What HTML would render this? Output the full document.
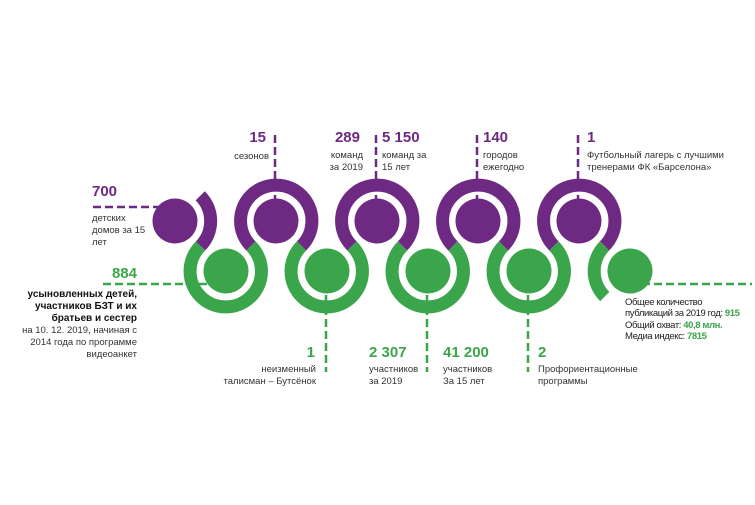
<!DOCTYPE html>
<html><head><meta charset="utf-8"><style>
html,body{margin:0;padding:0;background:#fff;}
svg{display:block;}
text{font-family:"Liberation Sans",sans-serif;}
.n{font-size:15px;font-weight:bold;}
.p{fill:#6e2a83;}
.g{fill:#3aa54b;}
.t{font-size:9.5px;fill:#333;}
.b{font-size:10px;font-weight:bold;fill:#111;}
.r{font-size:9.5px;fill:#222;letter-spacing:-0.4px;}
</style></head><body>
<svg width="755" height="505" viewBox="0 0 755 505" xmlns="http://www.w3.org/2000/svg">
<g fill="none" stroke-width="2.5" stroke-dasharray="8 4">
 <g stroke="#6e2a83">
  <line x1="93" y1="207" x2="172" y2="207"/>
  <line x1="275" y1="135" x2="275" y2="221"/>
  <line x1="376" y1="135" x2="376" y2="221"/>
  <line x1="477" y1="135" x2="477" y2="221"/>
  <line x1="578" y1="135" x2="578" y2="221"/>
 </g>
 <g stroke="#3aa54b">
  <line x1="103" y1="284" x2="226" y2="284"/>
  <line x1="630" y1="284" x2="752" y2="284"/>
  <line x1="326" y1="271" x2="326" y2="372"/>
  <line x1="427" y1="271" x2="427" y2="372"/>
  <line x1="528" y1="271" x2="528" y2="372"/>
 </g>
</g>
<g fill="none" stroke-width="13">
 <g stroke="#6e2a83">
  <path d="M200.2 195.8 A35.7 35.7 0 0 1 200.5 246"/>
  <path d="M251 246 A35.7 35.7 0 1 1 301.5 246"/>
  <path d="M352 246 A35.7 35.7 0 1 1 402.5 246"/>
  <path d="M453 246 A35.7 35.7 0 1 1 503.5 246"/>
  <path d="M554 246 A35.7 35.7 0 1 1 604.5 246"/>
 </g>
 <g stroke="#3aa54b">
  <path d="M200.5 246 A35.7 35.7 0 1 0 251 246"/>
  <path d="M301.5 246 A35.7 35.7 0 1 0 352 246"/>
  <path d="M402.5 246 A35.7 35.7 0 1 0 453 246"/>
  <path d="M503.5 246 A35.7 35.7 0 1 0 554 246"/>
  <path d="M604.5 246 A35.7 35.7 0 0 0 604.8 296.5"/>
 </g>
</g>
<g fill="#6e2a83">
 <circle cx="175" cy="221" r="22.5"/>
 <circle cx="276" cy="221" r="22.5"/>
 <circle cx="377" cy="221" r="22.5"/>
 <circle cx="478" cy="221" r="22.5"/>
 <circle cx="579" cy="221" r="22.5"/>
</g>
<g fill="#3aa54b">
 <circle cx="226" cy="271" r="22.5"/>
 <circle cx="327" cy="271" r="22.5"/>
 <circle cx="428" cy="271" r="22.5"/>
 <circle cx="529" cy="271" r="22.5"/>
 <circle cx="630" cy="271" r="22.5"/>
</g>

<text class="n p" x="266" y="142" text-anchor="end">15</text>
<text class="t" x="269" y="159" text-anchor="end">сезонов</text>
<text class="n p" x="360" y="142" text-anchor="end">289</text>
<text class="t" x="363" y="158" text-anchor="end">команд</text>
<text class="t" x="363" y="170" text-anchor="end">за 2019</text>
<text class="n p" x="382" y="142">5 150</text>
<text class="t" x="382" y="158">команд за</text>
<text class="t" x="382" y="170">15 лет</text>
<text class="n p" x="483" y="142">140</text>
<text class="t" x="483" y="158">городов</text>
<text class="t" x="483" y="170">ежегодно</text>
<text class="n p" x="587" y="142">1</text>
<text class="t" x="587" y="158">Футбольный лагерь с лучшими</text>
<text class="t" x="587" y="170">тренерами ФК «Барселона»</text>

<text class="n p" x="92" y="196">700</text>
<text class="t" x="92" y="221">детских</text>
<text class="t" x="92" y="233">домов за 15</text>
<text class="t" x="92" y="245">лет</text>

<text class="n g" x="137" y="278" text-anchor="end">884</text>
<text class="b" x="137" y="297" text-anchor="end">усыновленных детей,</text>
<text class="b" x="137" y="309" text-anchor="end">участников БЗТ и их</text>
<text class="b" x="137" y="321" text-anchor="end">братьев и сестер</text>
<text class="t" x="137" y="333" text-anchor="end">на 10. 12. 2019, начиная с</text>
<text class="t" x="137" y="345" text-anchor="end">2014 года по программе</text>
<text class="t" x="137" y="357" text-anchor="end">видеоанкет</text>

<text class="n g" x="315" y="357" text-anchor="end">1</text>
<text class="t" x="316" y="372" text-anchor="end">неизменный</text>
<text class="t" x="316" y="384" text-anchor="end">талисман – Бутсёнок</text>
<text class="n g" x="369" y="357">2 307</text>
<text class="t" x="369" y="372">участников</text>
<text class="t" x="369" y="384">за 2019</text>
<text class="n g" x="443" y="357">41 200</text>
<text class="t" x="443" y="372">участников</text>
<text class="t" x="443" y="384">За 15 лет</text>
<text class="n g" x="538" y="357">2</text>
<text class="t" x="538" y="372">Профориентационные</text>
<text class="t" x="538" y="384">программы</text>

<text class="r" x="625" y="305">Общее количество</text>
<text class="r" x="625" y="316">публикаций за 2019 год: <tspan fill="#3aa54b" font-weight="bold">915</tspan></text>
<text class="r" x="625" y="328">Общий охват: <tspan fill="#3aa54b" font-weight="bold">40,8 млн.</tspan></text>
<text class="r" x="625" y="339">Медиа индекс: <tspan fill="#3aa54b" font-weight="bold">7815</tspan></text>
</svg>
</body></html>
